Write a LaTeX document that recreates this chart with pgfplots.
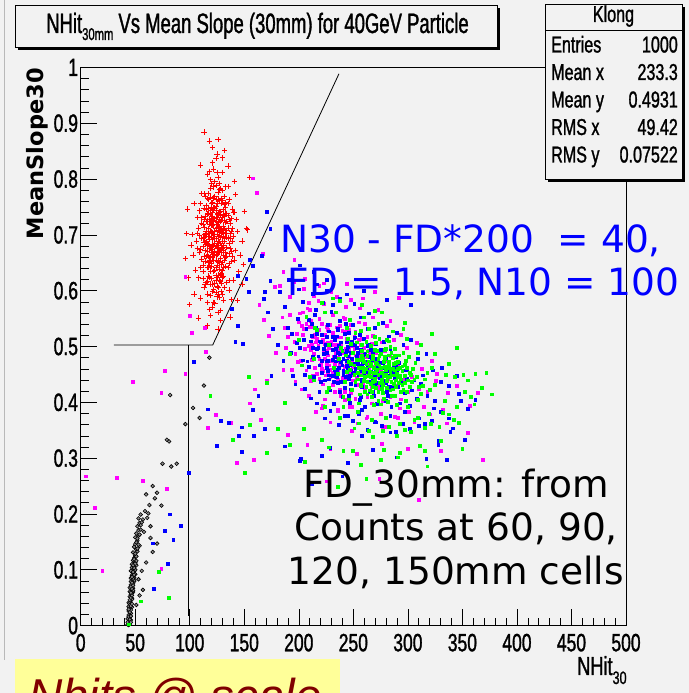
\documentclass[border=0pt]{standalone}
\usepackage{pgfplots}
\pgfplotsset{compat=1.18}
\usepackage{pgfplotstable}
\usepackage{fontspec}
\setmainfont{Liberation Sans}
\newfontfamily\rootfont[FakeStretch=0.7,FakeBold=1.2]{Liberation Sans}
\newfontfamily\titlefont[FakeStretch=0.66,FakeBold=1.2]{Liberation Sans}
\newfontfamily\djv{DejaVu Sans}
\definecolor{bgc}{RGB}{242,242,242}
\definecolor{rgreen}{RGB}{0,255,0}
\definecolor{rmag}{RGB}{255,0,255}
\definecolor{rblue}{RGB}{0,0,255}
\definecolor{rred}{RGB}{255,0,0}
\definecolor{ylw}{RGB}{255,255,153}
\definecolor{dred}{RGB}{128,0,0}

\begin{document}
\pgfplotstableread{
x y
124 0.712
118 0.655
131 0.698
127 0.741
115 0.688
122 0.602
136 0.667
120 0.733
112 0.719
129 0.631
125 0.684
117 0.774
133 0.722
121 0.659
128 0.695
110 0.641
138 0.706
123 0.748
119 0.612
126 0.668
132 0.754
114 0.701
130 0.676
116 0.725
135 0.641
122 0.786
127 0.619
113 0.662
124 0.731
139 0.689
118 0.702
131 0.583
120 0.677
126 0.803
111 0.694
134 0.738
125 0.646
117 0.626
129 0.765
123 0.671
108 0.712
137 0.721
121 0.692
128 0.658
115 0.752
132 0.606
119 0.739
126 0.714
142 0.672
116 0.681
124 0.597
130 0.779
112 0.646
127 0.704
120 0.757
135 0.694
109 0.668
122 0.726
133 0.659
118 0.814
125 0.623
140 0.741
114 0.734
128 0.684
121 0.571
131 0.716
106 0.689
124 0.664
117 0.697
136 0.763
126 0.739
119 0.653
129 0.711
113 0.606
123 0.796
134 0.677
120 0.718
127 0.588
115 0.661
138 0.652
122 0.744
111 0.774
130 0.637
125 0.701
144 0.706
116 0.642
132 0.689
119 0.768
128 0.742
107 0.731
124 0.679
136 0.601
121 0.829
133 0.749
118 0.675
126 0.561
113 0.748
131 0.664
103 0.664
127 0.792
122 0.634
140 0.619
117 0.711
129 0.681
120 0.622
135 0.787
124 0.751
110 0.587
126 0.688
146 0.664
114 0.769
132 0.726
119 0.591
123 0.707
137 0.694
128 0.616
116 0.737
130 0.704
121 0.758
112 0.679
125 0.731
134 0.615
118 0.645
127 0.669
143 0.728
109 0.743
122 0.665
131 0.745
120 0.696
115 0.615
126 0.776
139 0.711
124 0.641
117 0.683
129 0.598
132 0.769
113 0.727
123 0.614
136 0.727
119 0.724
105 0.637
128 0.709
121 0.683
134 0.662
126 0.628
111 0.657
130 0.732
116 0.808
138 0.584
125 0.719
148 0.689
118 0.566
127 0.761
122 0.701
102 0.701
133 0.702
120 0.749
115 0.724
129 0.648
124 0.837
141 0.655
112 0.694
126 0.736
119 0.676
131 0.626
108 0.623
123 0.685
135 0.712
117 0.748
128 0.673
121 0.612
137 0.676
114 0.653
125 0.812
130 0.593
120 0.706
152 0.711
126 0.654
118 0.727
133 0.739
110 0.756
124 0.627
116 0.594
139 0.746
122 0.718
128 0.783
113 0.687
131 0.681
145 0.634
119 0.661
127 0.651
104 0.756
134 0.696
121 0.741
116 0.671
125 0.675
142 0.772
111 0.721
129 0.726
123 0.578
136 0.649
117 0.661
126 0.697
150 0.742
120 0.643
132 0.655
114 0.611
127 0.727
119 0.799
138 0.729
124 0.693
101 0.682
130 0.761
122 0.654
128 0.547
115 0.706
133 0.669
107 0.676
140 0.698
121 0.725
126 0.606
117 0.763
131 0.709
112 0.634
124 0.763
118 0.868
126 0.871
121 0.856
113 0.884
132 0.851
98 0.746
96 0.658
155 0.803
153 0.709
100 0.575
148 0.612
108 0.551
137 0.553
99 0.623
144 0.582
126 0.531
116 0.537
130 0.838
110 0.825
125 0.845
97 0.702
149 0.647
104 0.594
141 0.796
135 0.823
121 0.703
127 0.688
118 0.719
131 0.672
124 0.744
116 0.663
129 0.756
122 0.681
134 0.708
119 0.635
126 0.722
113 0.696
130 0.651
123 0.769
117 0.738
128 0.629
121 0.662
135 0.735
125 0.607
119 0.784
132 0.693
114 0.672
127 0.715
120 0.649
138 0.671
123 0.729
116 0.617
129 0.702
124 0.655
111 0.731
133 0.758
126 0.678
118 0.692
122 0.818
130 0.623
115 0.745
128 0.735
121 0.598
136 0.684
124 0.711
117 0.651
127 0.781
120 0.729
131 0.642
113 0.713
125 0.665
134 0.724
119 0.707
126 0.594
122 0.749
109 0.699
129 0.669
123 0.637
116 0.765
132 0.733
118 0.624
125 0.757
121 0.674
137 0.702
114 0.686
128 0.724
122 0.579
130 0.689
117 0.706
124 0.788
133 0.643
119 0.743
126 0.652
112 0.622
127 0.699
120 0.668
135 0.756
123 0.694
115 0.702
129 0.613
121 0.733
126 0.764
118 0.681
131 0.737
124 0.618
110 0.674
139 0.662
107 0.702
141 0.741
122 0.766
128 0.565
116 0.579
133 0.786
120 0.792
125 0.589
113 0.774
136 0.618
119 0.556
130 0.812
124 0.724
117 0.642
127 0.639
121 0.717
132 0.711
126 0.708
}\redtab

\pgfplotstableread{
x y
43 0.002
44 0.005
45 0.008
43 0.012
45 0.015
44 0.019
46 0.022
44 0.026
45 0.030
47 0.033
45 0.037
44 0.041
46 0.045
47 0.049
45 0.052
46 0.056
48 0.060
46 0.064
45 0.068
47 0.071
48 0.075
46 0.079
47 0.083
49 0.086
47 0.090
48 0.094
46 0.098
48 0.102
49 0.106
47 0.110
50 0.113
48 0.117
49 0.121
50 0.126
48 0.131
51 0.136
49 0.141
50 0.146
52 0.152
50 0.158
51 0.165
53 0.171
52 0.178
54 0.184
53 0.192
55 0.199
44 0.001
45 0.004
46 0.010
44 0.016
46 0.028
45 0.043
47 0.058
46 0.073
48 0.088
47 0.104
49 0.097
46 0.085
45 0.061
44 0.034
47 0.047
48 0.067
49 0.079
50 0.092
51 0.108
50 0.123
52 0.133
51 0.149
53 0.161
54 0.143
55 0.172
58 0.168
64 0.157
70 0.147
66 0.132
60 0.113
57 0.064
54 0.054
51 0.037
56 0.098
53 0.083
44 0.007
45 0.011
43 0.006
46 0.017
45 0.024
44 0.029
46 0.035
47 0.039
45 0.046
46 0.050
47 0.054
46 0.059
48 0.063
47 0.066
46 0.070
48 0.072
47 0.077
49 0.081
48 0.084
47 0.087
49 0.091
48 0.096
50 0.100
49 0.103
48 0.108
50 0.111
51 0.116
49 0.119
51 0.124
50 0.129
52 0.138
53 0.145
52 0.156
54 0.163
55 0.180
57 0.190
59 0.205
62 0.201
45 0.003
46 0.006
82 0.413
103 0.390
96 0.361
113 0.430
118 0.480
109 0.372
81 0.330
79 0.333
88 0.290
75 0.290
83 0.285
66 0.250
60 0.235
70 0.238
63 0.216
74 0.215
68 0.228
61 0.193
56 0.185
64 0.178
}\blacktab

\pgfplotstableread{
x y
238 0.493
224 0.521
252 0.468
212 0.534
265 0.487
231 0.452
246 0.529
219 0.478
259 0.431
236 0.516
204 0.561
273 0.456
228 0.497
249 0.501
215 0.462
282 0.442
241 0.552
256 0.476
198 0.523
243 0.443
268 0.519
226 0.469
252 0.406
209 0.578
239 0.471
279 0.492
221 0.541
261 0.458
233 0.418
246 0.494
192 0.556
274 0.426
230 0.508
255 0.543
217 0.451
287 0.468
242 0.463
206 0.495
263 0.409
235 0.534
250 0.448
223 0.576
276 0.445
238 0.423
213 0.517
259 0.485
227 0.455
295 0.433
245 0.507
202 0.474
268 0.441
234 0.488
252 0.526
218 0.501
284 0.409
240 0.443
210 0.535
263 0.471
231 0.557
248 0.416
196 0.508
271 0.488
227 0.484
256 0.451
214 0.591
290 0.452
238 0.469
207 0.457
267 0.505
232 0.518
249 0.466
222 0.432
279 0.474
243 0.526
200 0.543
261 0.424
229 0.539
254 0.483
212 0.476
300 0.418
236 0.503
217 0.514
270 0.463
247 0.391
204 0.520
276 0.507
225 0.448
258 0.465
233 0.467
289 0.429
242 0.549
211 0.493
265 0.447
230 0.474
251 0.496
187 0.533
280 0.455
239 0.411
220 0.467
255 0.512
304 0.445
227 0.529
246 0.481
208 0.568
273 0.431
236 0.457
260 0.498
216 0.507
294 0.405
241 0.489
224 0.504
268 0.474
197 0.486
250 0.439
232 0.503
284 0.482
257 0.429
221 0.459
245 0.462
310 0.424
229 0.445
263 0.517
205 0.531
277 0.403
238 0.536
252 0.457
226 0.492
291 0.469
213 0.448
266 0.454
236 0.479
201 0.559
258 0.448
244 0.514
219 0.549
282 0.463
231 0.431
272 0.446
249 0.421
190 0.517
318 0.418
332 0.386
345 0.429
327 0.451
357 0.394
336 0.362
364 0.417
320 0.378
303 0.347
291 0.372
277 0.354
263 0.373
249 0.349
236 0.386
222 0.393
209 0.412
197 0.437
186 0.458
179 0.489
173 0.519
168 0.548
164 0.575
178 0.607
186 0.634
196 0.655
206 0.621
219 0.608
244 0.612
270 0.598
292 0.587
171 0.438
160 0.423
155 0.398
165 0.368
190 0.341
208 0.323
229 0.316
253 0.308
276 0.326
300 0.317
330 0.313
355 0.345
226 0.258
5 0.267
33 0.265
13 0.211
20 0.098
57 0.259
79 0.245
77 0.456
48 0.437
74 0.417
96 0.451
115 0.490
124 0.377
117 0.354
138 0.363
143 0.292
159 0.297
74 0.102
158 0.801
162 0.775
96 0.624
100 0.555
102 0.524
114 0.533
167 0.665
369 0.297
310 0.225
274 0.263
232 0.482
247 0.471
222 0.512
258 0.459
239 0.501
214 0.487
265 0.437
228 0.466
251 0.517
236 0.441
243 0.496
219 0.529
271 0.469
233 0.513
256 0.489
224 0.477
246 0.452
211 0.546
262 0.481
240 0.528
229 0.458
253 0.444
217 0.496
278 0.437
237 0.493
249 0.476
226 0.535
264 0.462
242 0.419
209 0.501
257 0.503
234 0.446
281 0.418
223 0.489
248 0.539
237 0.462
270 0.476
215 0.521
255 0.431
244 0.471
231 0.524
262 0.449
219 0.442
286 0.451
239 0.516
252 0.484
227 0.507
267 0.428
203 0.537
245 0.447
235 0.491
275 0.458
222 0.456
258 0.514
241 0.478
296 0.441
212 0.502
264 0.492
233 0.472
250 0.463
185 0.552
192 0.589
199 0.472
205 0.603
211 0.438
218 0.582
224 0.405
230 0.597
236 0.384
243 0.571
249 0.392
256 0.568
262 0.371
268 0.552
275 0.379
281 0.537
288 0.374
294 0.521
301 0.383
308 0.506
315 0.392
322 0.474
188 0.497
196 0.615
203 0.423
210 0.566
216 0.382
223 0.613
229 0.364
235 0.588
242 0.404
248 0.583
254 0.362
261 0.541
267 0.398
273 0.566
280 0.356
287 0.511
293 0.389
299 0.497
306 0.364
313 0.459
326 0.438
337 0.417
183 0.609
194 0.458
207 0.541
221 0.389
259 0.586
284 0.546
}\magtab

\pgfplotstableread{
x y
245 0.482
231 0.517
262 0.455
218 0.498
274 0.471
239 0.436
256 0.521
227 0.474
268 0.419
249 0.503
212 0.541
283 0.447
236 0.489
258 0.466
221 0.452
291 0.428
243 0.541
266 0.493
205 0.512
252 0.431
278 0.508
233 0.458
261 0.392
216 0.566
247 0.467
289 0.481
228 0.527
270 0.446
240 0.409
254 0.488
199 0.549
282 0.412
237 0.501
263 0.532
224 0.439
296 0.457
250 0.452
213 0.481
272 0.397
242 0.523
258 0.441
230 0.562
285 0.436
246 0.411
220 0.508
267 0.476
235 0.446
304 0.421
253 0.497
209 0.463
276 0.429
241 0.478
260 0.513
226 0.489
293 0.398
248 0.433
217 0.523
271 0.458
238 0.546
256 0.404
201 0.497
280 0.477
234 0.473
264 0.437
222 0.578
299 0.442
245 0.459
214 0.446
275 0.493
239 0.507
257 0.456
229 0.421
287 0.462
251 0.515
207 0.532
269 0.412
236 0.529
262 0.472
219 0.466
308 0.406
244 0.492
225 0.503
278 0.451
255 0.379
211 0.509
284 0.496
232 0.437
266 0.454
241 0.456
297 0.417
250 0.538
218 0.482
273 0.435
237 0.462
259 0.484
194 0.522
288 0.443
247 0.399
227 0.456
263 0.501
312 0.433
235 0.518
254 0.469
215 0.557
281 0.419
243 0.446
268 0.487
223 0.496
302 0.394
249 0.478
231 0.493
276 0.462
204 0.475
258 0.427
240 0.492
292 0.471
265 0.418
228 0.448
253 0.453
318 0.412
236 0.434
271 0.505
212 0.519
285 0.392
246 0.524
260 0.448
233 0.481
299 0.458
220 0.437
274 0.443
244 0.465
209 0.548
266 0.437
252 0.503
227 0.538
290 0.452
238 0.419
280 0.434
257 0.409
198 0.506
263 0.462
248 0.489
314 0.448
234 0.451
272 0.478
226 0.473
286 0.427
242 0.437
255 0.475
217 0.496
306 0.439
325 0.402
338 0.371
347 0.415
330 0.437
355 0.388
341 0.353
362 0.404
322 0.366
328 0.331
310 0.357
296 0.361
284 0.346
270 0.365
258 0.339
242 0.375
229 0.384
217 0.398
206 0.424
195 0.447
186 0.474
181 0.502
176 0.532
172 0.561
168 0.585
183 0.598
191 0.619
201 0.645
214 0.634
226 0.619
260 0.599
281 0.583
303 0.575
175 0.447
163 0.412
158 0.386
169 0.352
148 0.355
187 0.321
202 0.298
221 0.304
245 0.292
268 0.315
290 0.301
317 0.299
336 0.296
352 0.332
212 0.253
240 0.267
104 0.472
117 0.387
129 0.367
136 0.363
125 0.322
99 0.274
82 0.199
92 0.179
77 0.170
85 0.154
66 0.147
80 0.111
67 0.066
145 0.340
148 0.311
159 0.340
171 0.741
174 0.710
166 0.662
158 0.644
155 0.655
152 0.621
154 0.597
144 0.626
139 0.567
144 0.537
142 0.508
149 0.505
169 0.597
174 0.618
201 0.295
229 0.318
328 0.324
339 0.347
251 0.468
238 0.487
264 0.449
229 0.503
272 0.462
244 0.474
257 0.494
233 0.511
278 0.439
248 0.457
221 0.521
266 0.468
241 0.449
287 0.452
253 0.482
226 0.462
262 0.428
236 0.531
274 0.484
246 0.441
216 0.534
259 0.471
231 0.476
281 0.456
249 0.509
240 0.466
268 0.441
223 0.487
255 0.448
245 0.499
294 0.437
235 0.458
261 0.487
228 0.441
270 0.432
252 0.516
242 0.425
277 0.471
219 0.509
258 0.438
234 0.496
265 0.481
247 0.447
283 0.427
226 0.517
252 0.459
239 0.472
272 0.451
213 0.497
256 0.464
243 0.486
289 0.466
231 0.447
264 0.502
248 0.423
237 0.476
275 0.447
221 0.474
260 0.453
244 0.507
187 0.571
193 0.488
200 0.602
206 0.449
213 0.594
219 0.418
226 0.599
232 0.397
238 0.585
245 0.376
251 0.576
258 0.386
264 0.559
271 0.364
277 0.542
284 0.376
290 0.524
297 0.382
303 0.511
310 0.371
317 0.486
324 0.389
331 0.461
338 0.429
345 0.447
190 0.533
197 0.432
204 0.579
211 0.407
217 0.611
224 0.371
231 0.574
237 0.359
244 0.593
250 0.367
257 0.552
263 0.351
270 0.533
276 0.358
283 0.518
289 0.347
296 0.503
302 0.352
309 0.478
316 0.361
323 0.457
330 0.382
349 0.402
208 0.473
280 0.403
}\bluetab

\pgfplotstableread{
x y
272 0.458
258 0.483
285 0.436
265 0.421
297 0.467
279 0.493
251 0.449
288 0.412
262 0.508
276 0.441
303 0.449
246 0.472
269 0.395
292 0.484
257 0.431
283 0.469
270 0.517
310 0.428
239 0.497
278 0.406
265 0.464
295 0.431
252 0.524
286 0.479
261 0.446
300 0.392
274 0.483
244 0.455
290 0.451
268 0.437
281 0.512
255 0.398
316 0.441
271 0.471
237 0.478
299 0.418
263 0.491
284 0.445
248 0.505
293 0.462
276 0.424
259 0.462
307 0.471
267 0.409
288 0.496
242 0.437
273 0.449
298 0.402
256 0.476
280 0.458
264 0.532
312 0.415
287 0.433
250 0.489
275 0.396
296 0.489
261 0.419
283 0.484
232 0.462
270 0.442
302 0.427
279 0.477
254 0.441
291 0.445
266 0.501
318 0.453
245 0.513
285 0.411
272 0.468
260 0.455
294 0.418
277 0.431
249 0.422
305 0.459
268 0.478
286 0.459
253 0.507
290 0.395
274 0.513
263 0.437
309 0.404
281 0.426
240 0.491
297 0.447
269 0.461
256 0.414
284 0.499
271 0.425
301 0.481
247 0.458
289 0.471
264 0.473
314 0.429
278 0.447
258 0.503
292 0.435
236 0.451
275 0.487
282 0.401
262 0.427
306 0.441
270 0.493
251 0.466
295 0.456
267 0.418
287 0.448
243 0.484
279 0.463
298 0.474
257 0.429
273 0.403
320 0.422
266 0.446
288 0.483
254 0.452
284 0.421
325 0.431
334 0.402
343 0.446
352 0.418
361 0.396
368 0.425
338 0.378
321 0.361
347 0.363
309 0.372
297 0.351
283 0.356
268 0.338
255 0.362
241 0.391
226 0.418
214 0.439
203 0.466
192 0.487
215 0.533
224 0.561
238 0.582
258 0.575
276 0.561
297 0.542
322 0.523
345 0.497
372 0.452
377 0.414
330 0.331
311 0.322
293 0.309
275 0.296
257 0.287
241 0.313
221 0.332
205 0.352
187 0.399
171 0.434
318 0.285
262 0.262
236 0.249
119 0.411
154 0.446
140 0.333
151 0.274
171 0.309
155 0.360
72 0.096
81 0.050
55 0.043
44 0.002
192 0.324
181 0.352
206 0.293
228 0.319
250 0.313
278 0.315
291 0.301
316 0.313
350 0.317
271 0.452
283 0.461
262 0.468
294 0.441
276 0.435
258 0.492
289 0.427
268 0.484
280 0.449
299 0.461
264 0.447
285 0.489
273 0.419
253 0.476
291 0.459
266 0.433
278 0.472
304 0.437
260 0.438
287 0.468
272 0.492
296 0.422
262 0.459
281 0.438
248 0.468
275 0.461
293 0.447
269 0.453
284 0.454
257 0.448
302 0.452
274 0.434
263 0.483
289 0.439
279 0.481
255 0.461
297 0.434
268 0.427
283 0.472
271 0.506
308 0.446
260 0.472
276 0.452
291 0.472
265 0.455
286 0.423
252 0.437
280 0.496
274 0.466
295 0.464
263 0.414
282 0.445
270 0.438
288 0.457
259 0.478
277 0.417
300 0.439
266 0.469
285 0.448
273 0.477
200 0.512
207 0.553
214 0.478
221 0.578
228 0.426
234 0.561
241 0.409
247 0.548
254 0.383
260 0.552
267 0.368
273 0.541
280 0.372
286 0.527
293 0.361
299 0.514
306 0.368
312 0.502
319 0.379
325 0.487
332 0.381
338 0.468
345 0.391
351 0.449
358 0.409
210 0.446
217 0.529
224 0.392
231 0.586
238 0.372
244 0.533
251 0.353
257 0.528
264 0.349
270 0.563
277 0.348
283 0.509
290 0.339
296 0.531
303 0.347
309 0.489
316 0.354
322 0.462
329 0.356
335 0.449
342 0.369
355 0.439
362 0.451
228 0.502
246 0.405
}\greentab

\begin{tikzpicture}[x=1bp,y=1bp]
\fill[bgc] (0,0) rectangle (689,693);
\useasboundingbox (0,0) rectangle (689,693);
\clip (0,0) rectangle (689,693);
\draw[gray!55, line width=0.9] (4,33) -- (4,693);

\begin{axis}[
  at={(80.7bp,67.4bp)}, anchor=south west,
  scale only axis, width=545.3bp, height=558.2bp,
  xmin=0, xmax=500, ymin=0, ymax=1,
  axis line style={black, line width=0.8bp},
  tick style={black, line width=0.6bp},
  tick align=inside,
  xtick pos=left, ytick pos=left,
  major tick length=16.5bp, minor tick length=8bp,
  xtick={0,50,100,150,200,250,300,350,400,450,500},
  xticklabels={0,50,100,150,200,250,300,350,400,450,500},
  ytick={0,0.1,0.2,0.3,0.4,0.5,0.6,0.7,0.8,0.9,1},
  yticklabels={0,0.1,0.2,0.3,0.4,0.5,0.6,0.7,0.8,0.9,1},
  minor x tick num=4, minor y tick num=4,
  ticklabel style={font=\rootfont\fontsize{25bp}{25bp}\selectfont, inner sep=0pt},
  xticklabel style={yshift=-8bp},
  yticklabel style={xshift=-2.5bp},
]
\addplot[only marks, mark=+, mark size=2.7bp, rred, mark options={line width=0.7bp}] table {\redtab};
\addplot[only marks, mark=*, mark size=1.9bp, black, mark options={line width=0.6bp, draw=black, fill=black!45}] table {\blacktab};
\addplot[only marks, mark=square*, mark size=1.4bp, rmag, mark options={fill=rmag, draw=rmag, line width=0pt}] table {\magtab};
\addplot[only marks, mark=square*, mark size=1.4bp, rblue, mark options={fill=rblue, draw=rblue, line width=0pt}] table {\bluetab};
\addplot[only marks, mark=square*, mark size=1.4bp, rgreen, mark options={fill=rgreen, draw=rgreen, line width=0pt}] table {\greentab};
\addplot[black, line width=0.8bp, no marks] coordinates {(30.5,0.5025) (121,0.5025) (236.8,0.9885)};
\addplot[black, line width=0.8bp, no marks] coordinates {(98.6,0.5025) (98.6,0.017)};
\end{axis}

% axis titles
\node[rotate=90, anchor=base east, inner sep=0pt, font=\djv\bfseries\fontsize{22.5bp}{22.5bp}\selectfont] at (43,625) {MeanSlope30};
\node[anchor=base west, inner sep=0pt, font=\rootfont\fontsize{26bp}{26bp}\selectfont] at (577,18) {NHit\raisebox{-9bp}{\fontsize{18bp}{18bp}\selectfont 30}};

% annotations
\node[anchor=base west, inner sep=0pt, text=rblue, font=\djv\fontsize{37.5bp}{37.5bp}\selectfont] at (280,440) {N30 - FD*200\ \ = 40,};
\node[anchor=base west, inner sep=0pt, text=rblue, font=\djv\fontsize{37.5bp}{37.5bp}\selectfont] at (287.5,397) {FD = 1.5, N10 = 100};
\node[anchor=base, inner sep=0pt, font=\djv\fontsize{37.5bp}{37.5bp}\selectfont] at (456,195) {FD\_30mm: from};
\node[anchor=base, inner sep=0pt, font=\djv\fontsize{37.5bp}{37.5bp}\selectfont] at (456,152) {Counts at 60, 90,};
\node[anchor=base, inner sep=0pt, font=\djv\fontsize{37.5bp}{37.5bp}\selectfont] at (456,108) {120, 150mm cells};

% title box
\fill[black] (18,643) rectangle (500,685);
\filldraw[fill=bgc, draw=black, line width=0.8] (15,646) rectangle (497,688);
\node[anchor=base, inner sep=0pt, font=\titlefont\fontsize{28bp}{28bp}\selectfont] at (257.5,660) {NHit\raisebox{-7bp}{\fontsize{17bp}{17bp}\selectfont 30mm} Vs Mean Slope (30mm) for 40GeV Particle};

% stats box
\fill[black] (548,511) rectangle (685,686);
\filldraw[fill=bgc, draw=black, line width=0.8] (545,514) rectangle (682,689);
\draw[black, line width=0.8] (545,663) -- (682,663);
\begin{scope}[font=\rootfont\fontsize{23bp}{23bp}\selectfont]
\node[anchor=base, inner sep=0pt] at (613.5,671) {Klong};
\node[anchor=base west, inner sep=0pt] at (551,640.5) {Entries};
\node[anchor=base east, inner sep=0pt] at (678,640.5) {1000};
\node[anchor=base west, inner sep=0pt] at (551,613) {Mean x};
\node[anchor=base east, inner sep=0pt] at (678,613) {233.3};
\node[anchor=base west, inner sep=0pt] at (551,585.5) {Mean y};
\node[anchor=base east, inner sep=0pt] at (678,585.5) {0.4931};
\node[anchor=base west, inner sep=0pt] at (551,558) {RMS x};
\node[anchor=base east, inner sep=0pt] at (678,558) {49.42};
\node[anchor=base west, inner sep=0pt] at (551,530.5) {RMS y};
\node[anchor=base east, inner sep=0pt] at (678,530.5) {0.07522};
\end{scope}

% yellow box at bottom
\fill[ylw] (15,0) rectangle (340,34);
\node[anchor=base west, inner sep=0pt, text=dred, font=\itshape\fontsize{47.5bp}{47.5bp}\selectfont] at (28,-19) {Nhits @ scale};
\end{tikzpicture}
\end{document}
